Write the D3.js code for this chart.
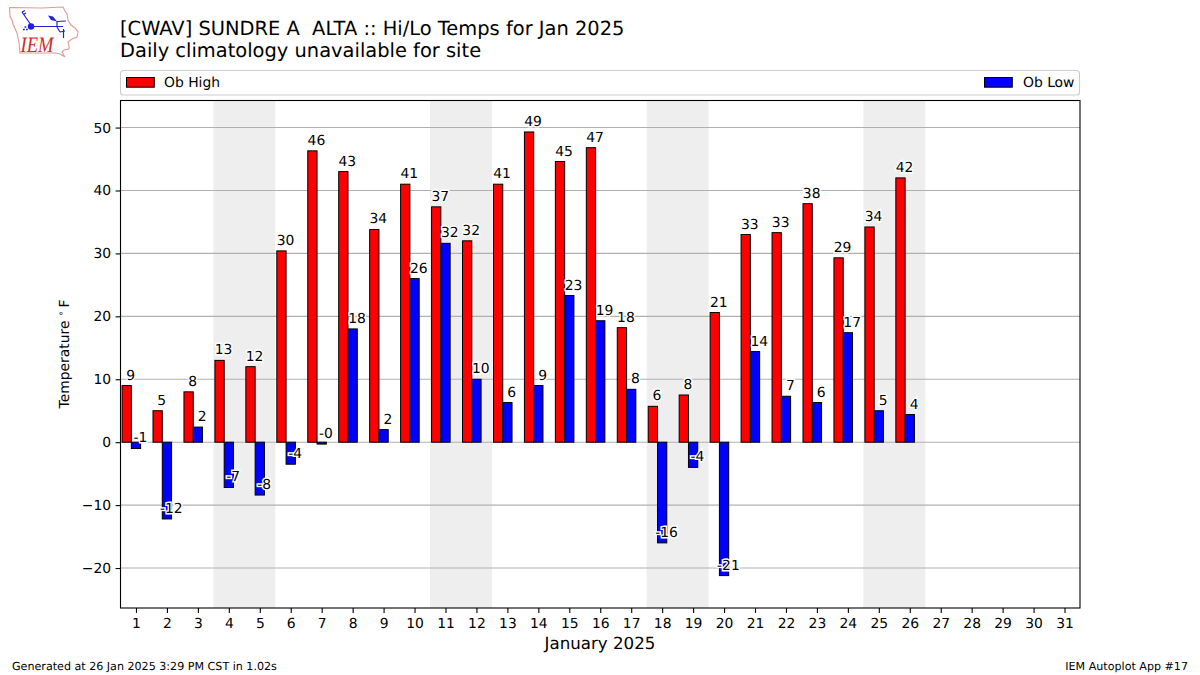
<!DOCTYPE html>
<html>
<head>
<meta charset="utf-8">
<script src="https://cdn.jsdelivr.net/npm/d3@7"></script>
<style>
    html, body { margin: 0; padding: 0; background: #fff; }
    text { font-family: "DejaVu Sans", sans-serif; fill: #000; text-rendering: geometricPrecision; }
</style>
</head>
<body>
<div id="chart-area"></div>
<script>
// values
let days = d3.range(1, 32);
let obHigh = [9, 5, 8, 13, 12, 30.4, 46.3, 43, 33.8, 41, 37.4, 32, 41, 49.3, 44.6, 46.8, 18.2, 5.7, 7.5, 20.6, 33, 33.3, 37.9, 29.3, 34.2, 42];
let obLow = [-1, -12.2, 2.4, -7.2, -8.4, -3.5, -0.3, 18, 2, 26, 31.6, 10, 6.3, 9, 23.3, 19.3, 8.4, -16, -4, -21.2, 14.4, 7.3, 6.3, 17.4, 5, 4.4];
let weekends = [[4, 5], [11, 12], [18, 19], [25, 26]];
let yTicks = [-20, -10, 0, 10, 20, 30, 40, 50];

let margin = {left: 120.5, top: 100.5, right: 120, bottom: 67};
let width = 1200 - margin.left - margin.right;
let height = 675 - margin.top - margin.bottom;

var svg = d3.select('#chart-area')
    .append('svg')
    .attr('width', 1200)
    .attr('height', 675)
    .style('display', 'block');

var x = d3.scaleLinear().domain([0.5, 31.5]).range([0, width]);
var y = d3.scaleLinear().domain([54.3, -26.35]).range([0, height]);

var g = svg.append('g')
    .attr('transform', 'translate(' + margin.left + ', ' + margin.top + ')');

// weekend shading
g.selectAll('rect.weekend')
    .data(weekends)
    .enter()
    .append('rect')
    .attr('class', 'weekend')
    .attr('x', d => x(d[0] - 0.5))
    .attr('width', d => x(d[1] + 0.5) - x(d[0] - 0.5))
    .attr('y', 0)
    .attr('height', height)
    .attr('fill', '#eeeeee');

// grid
g.selectAll('line.grid')
    .data(yTicks)
    .enter()
    .append('line')
    .attr('class', 'grid')
    .attr('x1', 0)
    .attr('x2', width)
    .attr('y1', d => y(d))
    .attr('y2', d => y(d))
    .attr('stroke', '#b0b0b0')
    .attr('stroke-width', 1.1);

// bars
function drawBars(values, offset, colour) {
    g.append('g').selectAll('rect')
        .data(values)
        .enter()
        .append('rect')
        .attr('x', (d, i) => x(days[i] + offset))
        .attr('width', x(1.3) - x(1))
        .attr('y', d => y(Math.max(d, 0)))
        .attr('height', d => Math.abs(y(d) - y(0)))
        .attr('fill', colour)
        .attr('stroke', '#000')
        .attr('stroke-width', 1);
}
drawBars(obHigh, -0.45, '#ff0000');
drawBars(obLow, -0.15, '#0000ff');

// value labels
function drawLabels(values, offset) {
    g.append('g').selectAll('text')
        .data(values)
        .enter()
        .append('text')
        .attr('x', (d, i) => x(days[i] + offset))
        .attr('y', d => y(d) - 6)
        .attr('text-anchor', 'middle')
        .attr('font-size', '13.89px')
        .attr('stroke', '#fff')
        .attr('stroke-width', 2.8)
        .attr('paint-order', 'stroke')
        .text(d => d.toFixed(0));
}
drawLabels(obHigh, -0.17);
drawLabels(obLow, 0.14);

// axes
var xAxisCall = d3.axisBottom(x).tickValues(days).tickFormat(d3.format('d')).tickSize(4.9).tickPadding(5.2);
var xAxis = g.append('g')
    .attr('transform', 'translate(0, ' + height + ')')
    .call(xAxisCall);

var yAxisCall = d3.axisLeft(y).tickValues(yTicks).tickSize(4.9).tickPadding(4.5)
    .tickFormat(d => String(d).replace('-', '\u2212'));
var yAxis = g.append('g').call(yAxisCall);

[xAxis, yAxis].forEach(a => {
    a.select('.domain').remove();
    a.selectAll('line').attr('stroke', '#000').attr('stroke-width', 1.1);
    a.selectAll('text').attr('font-size', '13.89px').attr('font-family', '"DejaVu Sans", sans-serif');
});

// frame
g.append('rect')
    .attr('width', width)
    .attr('height', height)
    .attr('fill', 'none')
    .attr('stroke', '#000')
    .attr('stroke-width', 1.1);

// axis labels
svg.append('text')
    .attr('x', 600)
    .attr('y', 649)
    .attr('text-anchor', 'middle')
    .attr('font-size', '16.67px')
    .text('January 2025');

var yLabel = svg.append('text')
    .attr('transform', 'translate(69, 354) rotate(-90)')
    .attr('text-anchor', 'middle')
    .attr('font-size', '13.89px');
yLabel.append('tspan').text('Temperature');
yLabel.append('tspan').attr('font-size', '9.7px').attr('dx', 4).attr('dy', -5).text('\u2218');
yLabel.append('tspan').attr('dx', 3).attr('dy', 5).text('F');

// titles
svg.append('text').attr('x', 120).attr('y', 35).attr('font-size', '19.44px')
    .attr('xml:space', 'preserve').style('white-space', 'pre')
    .text('[CWAV] SUNDRE A  ALTA :: Hi/Lo Temps for Jan 2025');
svg.append('text').attr('x', 120).attr('y', 57).attr('font-size', '19.44px')
    .text('Daily climatology unavailable for site');

// legend
svg.append('rect')
    .attr('x', 120.5).attr('y', 70.5)
    .attr('width', 959).attr('height', 24.5)
    .attr('rx', 3)
    .attr('fill', '#fff')
    .attr('stroke', '#cccccc')
    .attr('stroke-width', 1.1);

let legendItems = [
    {name: 'Ob High', colour: '#ff0000', sx: 126.5, tx: 164},
    {name: 'Ob Low', colour: '#0000ff', sx: 984.5, tx: 1023}
];
legendItems.forEach(d => {
    svg.append('rect')
        .attr('x', d.sx).attr('y', 77.5)
        .attr('width', 27.8).attr('height', 9.7)
        .attr('fill', d.colour)
        .attr('stroke', '#000')
        .attr('stroke-width', 1);
    svg.append('text')
        .attr('x', d.tx).attr('y', 86.5)
        .attr('font-size', '13.89px')
        .text(d.name);
});

// footer
svg.append('text').attr('x', 12).attr('y', 670).attr('font-size', '11.11px')
    .text('Generated at 26 Jan 2025 3:29 PM CST in 1.02s');
svg.append('text').attr('x', 1188).attr('y', 670).attr('font-size', '11.11px')
    .attr('text-anchor', 'end')
    .text('IEM Autoplot App #17');

// IEM logo, hand traced
var logo = svg.append('g').attr('fill', 'none');
logo.append('path')
    .attr('d', 'M9.5 7.5 L42 8 L63 7 L65 11 L67 14 L68 20 L71 25 L75 28 L78 32 L77 37 L72 39 L68 42 L69 46 L69 49 L64 50 L62 52 L65 57 L60 54 L56 53 L20 53 L19 43 L17 33 L13 24 L12 20 L10 16 Z')
    .attr('stroke', '#e29a9a')
    .attr('stroke-width', 1.1);
var blue = '#2020d8';
logo.append('path')
    .attr('d', 'M31 26.5 L63 26.5 M22 12 L31 25 M22 12 L25 10.5 M23.5 14.5 L26 13 M57 21.5 L66 21 M57 21 L57 27 M57 27 L60 32 M63.5 29 L63.5 38 M60 32 L65 31')
    .attr('stroke', blue)
    .attr('stroke-width', 1.2);
logo.append('circle').attr('cx', 31).attr('cy', 26.5).attr('r', 3.2).attr('fill', blue);
logo.append('path').attr('d', 'M48 15.5 L53 16.5 L57 21.5 L51 20 Z').attr('fill', blue);
logo.append('path').attr('d', 'M23 29.5 h1.8 M26 29.5 h1.8 M24.5 27 h1.8').attr('stroke', blue).attr('stroke-width', 1.4);
logo.append('text')
    .attr('x', 20.5).attr('y', 52)
    .attr('font-size', '22px')
    .attr('font-style', 'italic')
    .attr('textLength', 33)
    .attr('lengthAdjust', 'spacingAndGlyphs')
    .style('font-family', '"Liberation Serif", serif')
    .style('fill', '#d42a2a')
    .text('IEM');
</script>
</body>
</html>
